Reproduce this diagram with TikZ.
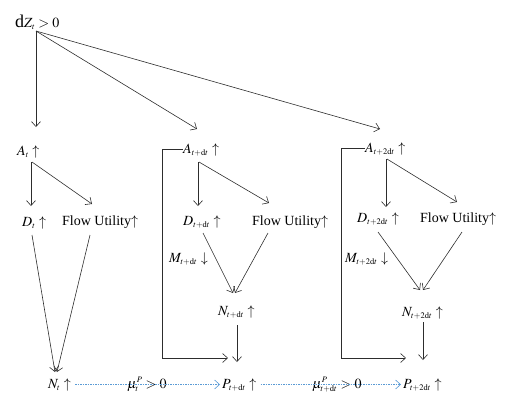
\documentclass[tikz,border=0pt]{standalone}
\usepackage{mathptmx}
\usepackage[no-math]{fontspec}
\setmainfont{Liberation Serif}
\usetikzlibrary{arrows.meta}
\DeclareMathSizes{14}{14}{8.5}{6.5}
\newcommand{\uarr}{\ensuremath{\uparrow}}
\newcommand{\darr}{\ensuremath{\downarrow}}
\definecolor{linegray}{RGB}{45,45,45}
\definecolor{flowblue}{RGB}{91,155,213}
\tikzset{
  lbl/.style={inner sep=0pt, anchor=base west, font=\fontsize{14}{16}\selectfont},
  arr/.style={-{Straight Barb[length=5pt,width=9pt]}, draw=linegray, line width=0.6pt},
  drift/.style={-{Straight Barb[length=5pt,width=9pt]}, draw=flowblue, line width=0.6pt,
    dash pattern=on 1.5pt off 1pt, shorten <=4pt, shorten >=2pt}
}
\begin{document}
\begin{tikzpicture}[x=1pt,y=-1pt]
  \useasboundingbox (0,0) rectangle (506,402);
  % shock
  \node[lbl] (dZ) at (15,27) {{\fontsize{18}{18}\selectfont d}$Z_t>0$};
  \coordinate (src) at ([shift={(21,4)}]dZ.base west);
  % period t
  \node[lbl] (At) at (17,155) {$A_t$ \uarr};
  \node[lbl] (Dt) at (22,226) {$D_t$ \uarr};
  \node[lbl] (FUt) at (62,225) {Flow Utility\uarr};
  \node[lbl] (Nt) at (48,388) {$N_t$ \uarr};
  % period t+dt
  \node[lbl] (Adt) at (183,153) {$A_{t+\mathrm{d}t}$ \uarr};
  \node[lbl] (Ddt) at (183,225) {$D_{t+\mathrm{d}t}$ \uarr};
  \node[lbl] (FUdt) at (252,225) {Flow Utility\uarr};
  \node[lbl] (Mdt) at (169,262) {$M_{t+\mathrm{d}t}$ \darr};
  \node[lbl] (Ndt) at (218,315) {$N_{t+\mathrm{d}t}$ \uarr};
  \node[lbl] (Pdt) at (222,388) {$P_{t+\mathrm{d}t}$ \uarr};
  % period t+2dt
  \node[lbl] (A2dt) at (365,152) {$A_{t+2\mathrm{d}t}$ \uarr};
  \node[lbl] (D2dt) at (357,222) {$D_{t+2\mathrm{d}t}$ \uarr};
  \node[lbl] (FU2dt) at (420,222) {Flow Utility\uarr};
  \node[lbl] (M2dt) at (345,262) {$M_{t+2\mathrm{d}t}$ \darr};
  \node[lbl] (N2dt) at (402,316) {$N_{t+2\mathrm{d}t}$ \uarr};
  \node[lbl] (P2dt) at (403,388) {$P_{t+2\mathrm{d}t}$ \uarr};
  % drift labels
  \node[lbl] (mu1) at (127,388) {$\mu_t^P>0$};
  \node[lbl] (mu2) at (312,388) {$\mu_{t+\mathrm{d}t}^P>0$};

  % from the shock
  \draw[arr] (src) -- ([shift={(19,-28)}]At.base west);
  \draw[arr] (src) -- ([shift={(14,-24)}]Adt.base west);
  \draw[arr] (src) -- ([shift={(15,-23)}]A2dt.base west);
  % period t
  \draw[arr] ([shift={(14,7)}]At.base west) -- ([shift={(9,-20)}]Dt.base west);
  \draw[arr] ([shift={(15,7)}]At.base west) -- ([shift={(30,-21)}]FUt.base west);
  \draw[arr] ([shift={(10,9)}]Dt.base west) -- ([shift={(7,-16)}]Nt.base west);
  \draw[arr] ([shift={(28,10)}]FUt.base west) -- ([shift={(9,-16)}]Nt.base west);
  % period t+dt
  \draw[arr] ([shift={(15,9)}]Adt.base west) -- ([shift={(15,-19)}]Ddt.base west);
  \draw[arr] ([shift={(16,9)}]Adt.base west) -- ([shift={(17,-22)}]FUdt.base west);
  \draw[arr] ([shift={(20,8)}]Ddt.base west) -- ([shift={(15,-22)}]Ndt.base west);
  \draw[arr] ([shift={(16,8)}]FUdt.base west) -- ([shift={(17,-22)}]Ndt.base west);
  \draw[arr] ([shift={(19,10)}]Ndt.base west) -- ([shift={(15,-26)}]Pdt.base west);
  \draw[arr] (Adt.west) -- ++(-21,0) |- ([shift={(6,-30)}]Pdt.base west);
  % period t+2dt
  \draw[arr] ([shift={(21,7)}]A2dt.base west) -- ([shift={(29,-15)}]D2dt.base west);
  \draw[arr] ([shift={(22,7)}]A2dt.base west) -- ([shift={(37,-20)}]FU2dt.base west);
  \draw[arr] ([shift={(21,10)}]D2dt.base west) -- ([shift={(18,-26)}]N2dt.base west);
  \draw[arr] ([shift={(42,10)}]FU2dt.base west) -- ([shift={(21,-26)}]N2dt.base west);
  \draw[arr] ([shift={(21,6)}]N2dt.base west) -- ([shift={(20,-28)}]P2dt.base west);
  \draw[arr] (A2dt.west) -- ++(-24,0) |- ([shift={(3,-30)}]P2dt.base west);
  % drift between periods
  \draw[drift] (Nt.east) -- (Nt.east -| Pdt.west);
  \draw[drift] (Pdt.east) -- (Pdt.east -| P2dt.west);
\end{tikzpicture}
\end{document}
